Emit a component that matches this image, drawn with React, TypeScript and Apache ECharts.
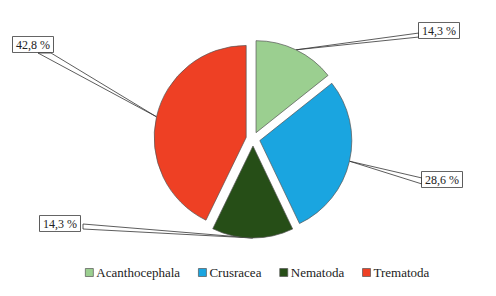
import React, { useEffect, useRef } from "react";
import * as echarts from "echarts";

const categories = ["Acanthocephala", "Crusracea", "Nematoda", "Trematoda"];
const percents = [14.3, 28.6, 14.3, 42.8];
const colors = ["#9bcf90", "#1aa5e0", "#264e17", "#ee4024"];

// layout only: label box top-left and leader attach points on the box
const labelBoxes = [
  { x: 419, y: 23, a1: [419, 33], a2: [419, 37] },
  { x: 422, y: 172, a1: [422, 178], a2: [422, 184] },
  { x: 40, y: 216, a1: [83, 224], a2: [83, 229] },
  { x: 13, y: 37, a1: [38, 53], a2: [51, 53] },
];
const baseCenter = [253, 139];
const explode = 7;
const radius = 92;

export default function App() {
  const ref = useRef<HTMLDivElement>(null);
  useEffect(() => {
    if (!ref.current) return;
    const chart = echarts.init(ref.current, null, { renderer: "svg" });
    const font = "'Liberation Serif', 'Times New Roman', serif";
    const total = percents.reduce((a, b) => a + b, 0);
    let cum = 0;
    const series = categories.map((_, si) => {
      const mid = ((cum + percents[si] / 2) / total) * Math.PI * 2;
      cum += percents[si];
      const b = labelBoxes[si];
      return {
        type: "pie",
        center: [baseCenter[0] + explode * Math.sin(mid), baseCenter[1] - explode * Math.cos(mid)],
        radius,
        startAngle: 90,
        clockwise: true,
        avoidLabelOverlap: false,
        emphasis: { disabled: true },
        labelLine: { show: true, length: 10, length2: 10, lineStyle: { color: "#333", width: 0.8 } },
        labelLayout: (params: any) => {
          if (params.dataIndex !== si) return {};
          const p0 = params.labelLinePoints ? params.labelLinePoints[0] : b.a1;
          return {
            x: b.x,
            y: b.y,
            align: "left",
            verticalAlign: "top",
            labelLinePoints: [p0, b.a1, b.a2, p0],
          };
        },
        data: categories.map((name, i) => {
          const visible = i === si;
          return {
            name,
            value: percents[i],
            itemStyle: visible
              ? { color: colors[i], borderColor: "#555", borderWidth: 0.7 }
              : { color: colors[i], opacity: 0, borderWidth: 0 },
            label: visible
              ? {
                  show: true,
                  position: "outside",
                  formatter: (p: any) => p.value.toFixed(1).replace(".", ",") + " %",
                  fontFamily: font,
                  fontSize: 12,
                  color: "#222",
                  backgroundColor: "#fff",
                  borderColor: "#333",
                  borderWidth: 0.8,
                  padding: [2, 3, 1, 3],
                }
              : { show: false },
            labelLine: { show: visible },
          };
        }),
      };
    });
    chart.setOption({
      animation: false,
      legend: {
        data: categories.map((name, i) => ({
          name,
          itemStyle: { color: colors[i], borderColor: "#555", borderWidth: 0.7, opacity: 1 },
        })),
        left: 85,
        top: 266,
        padding: 0,
        itemWidth: 8,
        itemHeight: 8,
        itemGap: 18,
        icon: "rect",
        selectedMode: false,
        textStyle: { fontFamily: font, fontSize: 13, color: "#222", padding: [0, 0, 0, -2] },
      },
      series,
    });
    return () => chart.dispose();
  }, []);
  return (
    <div
      ref={ref}
      style={{ position: "fixed", left: 0, top: 0, width: 496, height: 296, background: "#fff" }}
    />
  );
}
